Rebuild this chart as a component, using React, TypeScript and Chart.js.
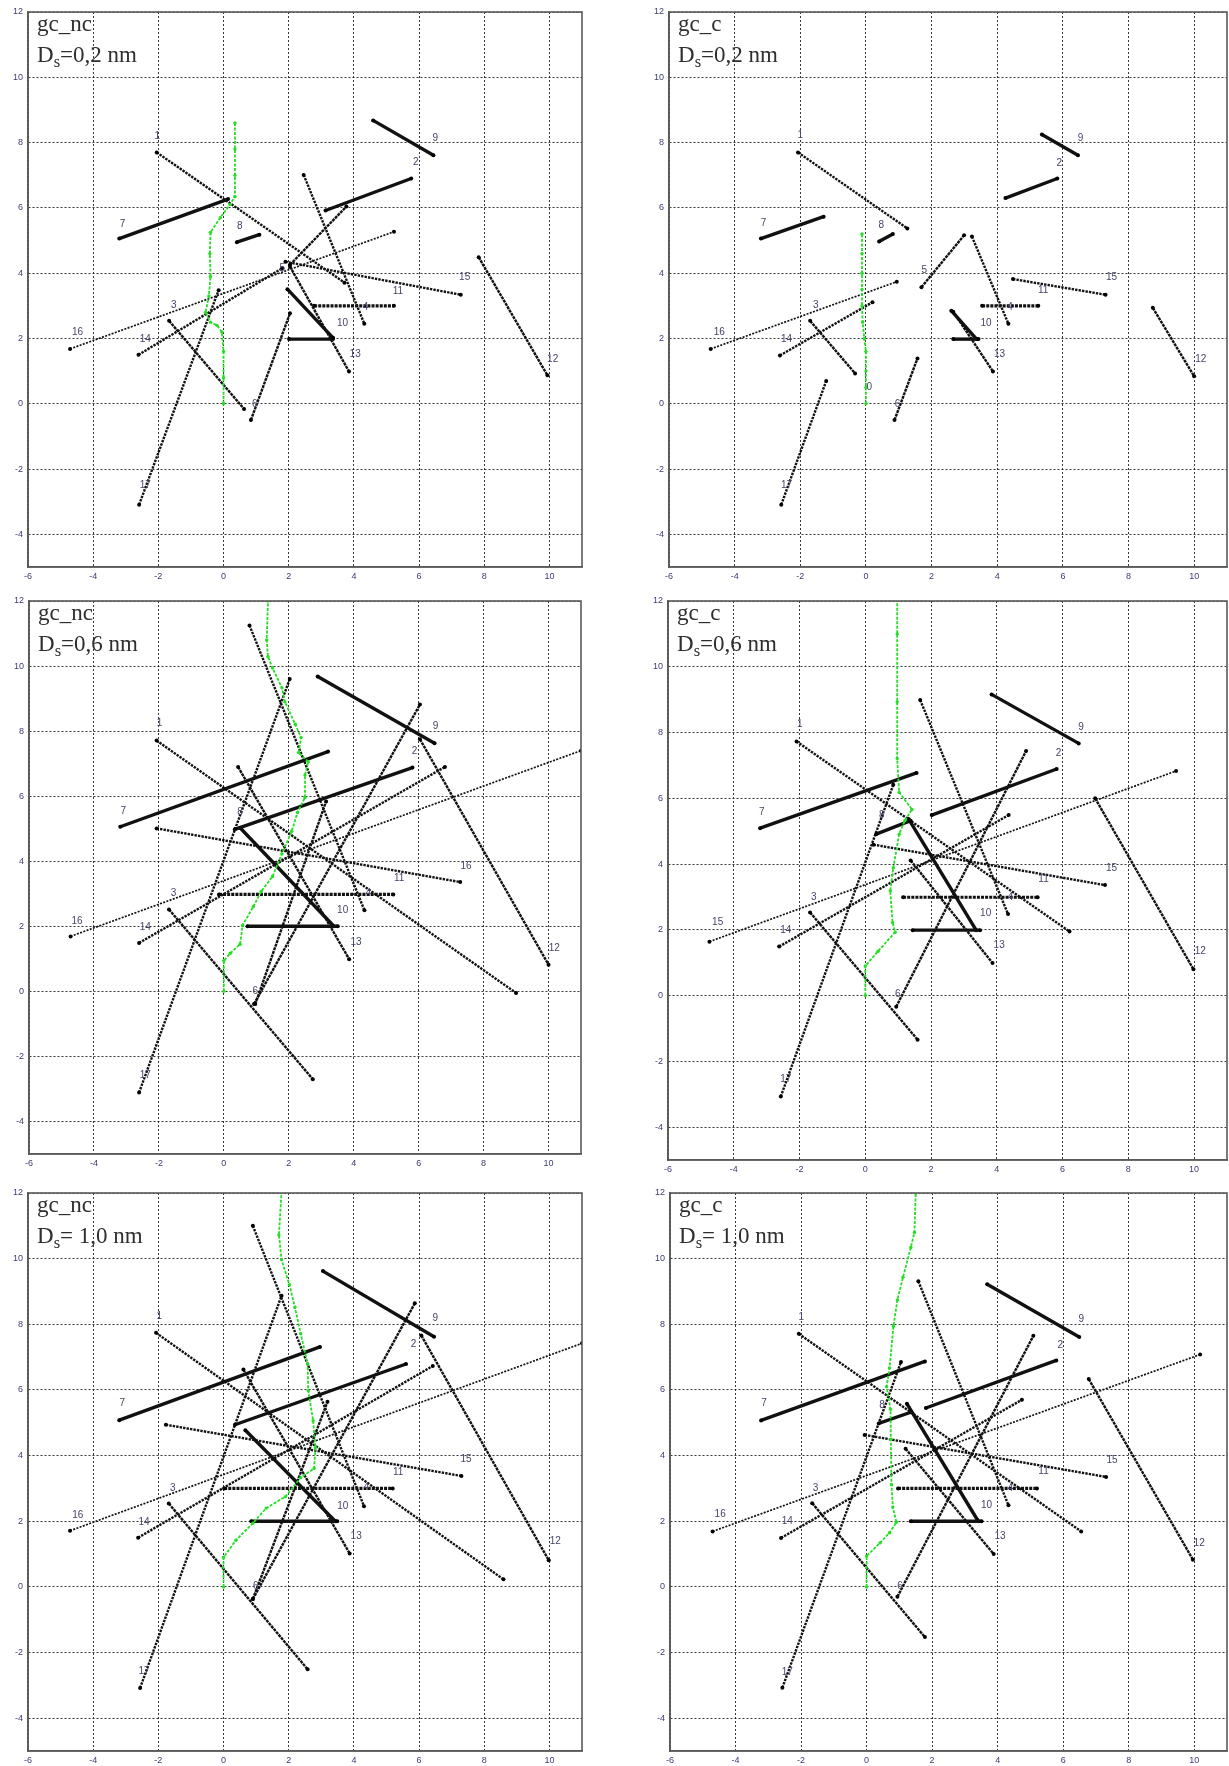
import React, { useEffect, useRef } from "react";
import { Chart, registerables } from "chart.js";

Chart.register(...registerables);

// ---------- axis values ----------
const X_MIN = -6;
const X_MAX = 11;
const Y_MIN = -5;
const Y_MAX = 12;
const X_TICKS = [-6, -4, -2, 0, 2, 4, 6, 8, 10];
const Y_TICKS = [-4, -2, 0, 2, 4, 6, 8, 10, 12];

type Seg = [string, number, number, number, number];
type Lbl = [string, number, number];

// ---------- panel titles ----------
const NAMES = ["gc_nc", "gc_c", "gc_nc", "gc_c", "gc_nc", "gc_c"];
const DS_VALUES = ["=0,2 nm", "=0,2 nm", "=0,6 nm", "=0,6 nm", "= 1,0 nm", "= 1,0 nm"];

// ---------- panel 1 : gc_nc, Ds = 0,2 nm ----------
const P1_SEGMENTS: Seg[] = [
  ["1", -2.05, 7.7, 3.71, 3.71],
  ["7", -3.2, 5.06, 0.14, 6.27],
  ["2", 3.13, 5.92, 5.76, 6.9],
  ["9", 4.59, 8.68, 6.44, 7.61],
  ["8", 0.41, 4.95, 1.1, 5.18],
  ["4", 2.46, 7.01, 4.32, 2.45],
  ["5", 2.04, 4.26, 3.77, 6.04],
  ["16", -4.71, 1.68, 5.23, 5.27],
  ["14", -2.61, 1.5, 1.8, 4.15],
  ["15", 1.9, 4.35, 7.28, 3.34],
  ["17", -2.59, -3.09, -0.15, 3.48],
  ["3", -1.67, 2.54, 0.63, -0.16],
  ["6", 0.84, -0.5, 2.04, 2.77],
  ["13", 2.04, 4.2, 3.85, 0.99],
  ["10", 1.96, 3.51, 3.36, 2.02],
  ["h2", 2.01, 1.98, 3.36, 1.98],
  ["11", 2.78, 3.0, 5.23, 3.0],
  ["12", 7.83, 4.49, 9.94, 0.87],
];
const P1_LABELS: Lbl[] = [
  ["1", -2.03, 8.2], ["9", 6.5, 8.14], ["2", 5.9, 7.4], ["7", -3.1, 5.5], ["8", 0.5, 5.45],
  ["5", 1.8, 4.15], ["15", 7.4, 3.86], ["11", 5.35, 3.45], ["3", -1.53, 3.02], ["4", 4.36, 2.97],
  ["10", 3.65, 2.48], ["16", -4.48, 2.2], ["14", -2.4, 1.99], ["13", 4.04, 1.53], ["12", 10.1, 1.37],
  ["6", 0.96, 0.0], ["17", -2.4, -2.5],
];
const P1_PATH_X = [0, 0, 0, -0.05, -0.2, -0.4, -0.55, -0.45, -0.4, -0.42, -0.4, -0.1, 0.2, 0.35, 0.35, 0.35, 0.35];
const P1_PATH_Y = [0, 0.8, 1.6, 2.2, 2.4, 2.5, 2.8, 3.3, 3.9, 4.6, 5.25, 5.7, 6.1, 6.35, 7.0, 7.8, 8.6];

// ---------- panel 2 : gc_c, Ds = 0,2 nm ----------
const P2_SEGMENTS: Seg[] = [
  ["1", -2.07, 7.7, 1.26, 5.37],
  ["7", -3.2, 5.06, -1.29, 5.73],
  ["8", 0.4, 4.97, 0.82, 5.2],
  ["9", 5.36, 8.25, 6.46, 7.61],
  ["2", 4.25, 6.3, 5.83, 6.9],
  ["5", 1.69, 3.57, 2.99, 5.16],
  ["4", 3.23, 5.12, 4.34, 2.45],
  ["11", 3.54, 3.0, 5.25, 3.0],
  ["15", 4.48, 3.82, 7.3, 3.34],
  ["16", -4.73, 1.68, 0.94, 3.74],
  ["14", -2.62, 1.48, 0.2, 3.11],
  ["3", -1.7, 2.54, -0.33, 0.93],
  ["17", -2.58, -3.09, -1.21, 0.7],
  ["6", 0.87, -0.5, 1.57, 1.39],
  ["h2", 2.66, 1.98, 3.43, 1.98],
  ["13", 2.66, 2.82, 3.87, 0.99],
  ["10", 2.6, 2.85, 3.37, 1.98],
  ["12", 8.74, 2.94, 10.0, 0.84],
];
const P2_LABELS: Lbl[] = [
  ["1", -2.0, 8.22], ["9", 6.54, 8.14], ["2", 5.89, 7.36], ["7", -3.12, 5.52], ["8", 0.47, 5.46],
  ["5", 1.78, 4.09], ["15", 7.48, 3.86], ["11", 5.4, 3.48], ["3", -1.53, 3.02], ["4", 4.39, 2.97],
  ["10", 3.66, 2.48], ["16", -4.47, 2.19], ["14", -2.42, 1.99], ["13", 4.07, 1.53], ["12", 10.2, 1.37],
  ["6", 0.96, 0.0], ["0", 0.1, 0.5], ["17", -2.42, -2.51],
];
const P2_PATH_X = [0, 0, 0, 0, -0.05, -0.1, -0.12, -0.12, -0.12, -0.12, -0.12];
const P2_PATH_Y = [0, 0.5, 1.0, 1.6, 2.0, 2.5, 3.0, 3.5, 4.0, 4.6, 5.2];

// ---------- panel 3 : gc_nc, Ds = 0,6 nm ----------
const P3_SEGMENTS: Seg[] = [
  ["1", -2.07, 7.71, 9.0, -0.05],
  ["7", -3.19, 5.06, 3.21, 7.37],
  ["2", 0.34, 4.98, 5.81, 6.88],
  ["9", 2.89, 9.68, 6.49, 7.63],
  ["6", 0.93, -0.39, 6.04, 8.82],
  ["6b", 0.97, -0.39, 3.15, 5.84],
  ["4", 0.79, 11.25, 4.33, 2.49],
  ["17", -2.61, -3.11, 2.03, 9.6],
  ["16", -4.72, 1.69, 11.0, 7.4],
  ["14", -2.61, 1.49, 6.81, 6.9],
  ["15", -2.07, 5.01, 7.28, 3.36],
  ["3", -1.69, 2.52, 2.74, -2.7],
  ["11", -0.15, 2.98, 5.22, 2.98],
  ["h2", 0.73, 2.0, 3.51, 2.0],
  ["13", 0.44, 6.9, 3.86, 0.99],
  ["10", 0.5, 5.03, 3.39, 2.0],
  ["12", 6.04, 7.75, 10.0, 0.82],
];
const P3_LABELS: Lbl[] = [
  ["1", -1.98, 8.24], ["9", 6.52, 8.15], ["2", 5.87, 7.37], ["7", -3.1, 5.55], ["8", 0.5, 5.5],
  ["16", 7.46, 3.86], ["11", 5.4, 3.48], ["3", -1.55, 3.01], ["4", 4.45, 3.01], ["10", 3.66, 2.49],
  ["16", -4.52, 2.17], ["14", -2.42, 1.97], ["13", 4.07, 1.51], ["12", 10.18, 1.34], ["6", 0.97, 0.0],
  ["17", -2.42, -2.59],
];
const P3_PATH_X = [0, 0, 0.2, 0.5, 0.58, 0.91, 1.15, 1.5, 1.79, 2.09, 2.27, 2.5, 2.5, 2.6, 2.3, 2.38, 2.2, 1.88, 1.79, 1.5, 1.36, 1.32, 1.36];
const P3_PATH_Y = [0, 0.94, 1.17, 1.45, 2.03, 2.61, 3.07, 3.53, 4.23, 4.92, 5.5, 5.96, 6.65, 7.06, 7.34, 7.8, 8.21, 8.9, 9.33, 9.94, 10.29, 10.8, 12.0];

// ---------- panel 4 : gc_c, Ds = 0,6 nm ----------
const P4_SEGMENTS: Seg[] = [
  ["1", -2.09, 7.73, 6.21, 1.95],
  ["7", -3.2, 5.09, 1.56, 6.77],
  ["8", 0.33, 4.91, 1.38, 5.32],
  ["9", 3.84, 9.16, 6.49, 7.67],
  ["2", 2.02, 5.49, 5.82, 6.89],
  ["6", 0.94, -0.34, 4.89, 7.44],
  ["4", 1.67, 8.99, 4.34, 2.48],
  ["17", -2.57, -3.07, 0.85, 6.41],
  ["16", -4.74, 1.64, 9.45, 6.83],
  ["14", -2.62, 1.49, 4.36, 5.49],
  ["15", 0.25, 4.59, 7.29, 3.36],
  ["3", -1.68, 2.53, 1.59, -1.34],
  ["11", 1.15, 2.99, 5.24, 2.99],
  ["h2", 1.44, 1.99, 3.49, 1.99],
  ["13", 1.38, 4.11, 3.87, 0.99],
  ["10", 1.32, 5.37, 3.37, 1.99],
  ["12", 6.99, 6.0, 9.98, 0.8],
];
const P4_LABELS: Lbl[] = [
  ["1", -1.99, 8.24], ["9", 6.56, 8.15], ["2", 5.88, 7.38], ["7", -3.15, 5.58], ["8", 0.5, 5.49],
  ["15", 7.49, 3.86], ["11", 5.42, 3.54], ["3", -1.57, 2.99], ["4", 4.42, 2.99], ["10", 3.66, 2.5],
  ["15", -4.49, 2.24], ["14", -2.42, 1.99], ["13", 4.07, 1.53], ["12", 10.19, 1.35], ["6", 0.99, 0.03],
  ["17", -2.42, -2.55],
];
const P4_PATH_X = [0, 0, 0.39, 0.91, 0.83, 0.76, 0.85, 1.03, 1.2, 1.42, 1.03, 0.97, 0.97, 0.97, 0.97];
const P4_PATH_Y = [0, 0.9, 1.35, 1.93, 2.22, 3.19, 3.88, 4.91, 5.32, 5.66, 6.18, 7.21, 8.93, 11.0, 12.03];

// ---------- panel 5 : gc_nc, Ds = 1,0 nm ----------
const P5_SEGMENTS: Seg[] = [
  ["1", -2.07, 7.74, 8.59, 0.23],
  ["7", -3.2, 5.08, 2.96, 7.31],
  ["2", 0.35, 4.94, 5.6, 6.79],
  ["9", 3.05, 9.62, 6.46, 7.62],
  ["6", 0.9, -0.37, 5.87, 8.64],
  ["6b", 0.9, -0.37, 3.19, 5.64],
  ["4", 0.9, 11.0, 4.31, 2.46],
  ["17", -2.56, -3.08, 1.78, 8.87],
  ["16", -4.71, 1.71, 11.0, 7.42],
  ["14", -2.62, 1.5, 6.42, 6.73],
  ["15", -1.77, 4.94, 7.3, 3.38],
  ["3", -1.68, 2.54, 2.58, -2.51],
  ["11", 0.02, 3.0, 5.19, 3.0],
  ["h2", 0.85, 2.0, 3.49, 2.0],
  ["13", 0.61, 6.62, 3.87, 1.02],
  ["10", 0.67, 4.77, 3.43, 2.0],
  ["12", 6.07, 7.66, 9.98, 0.81],
];
const P5_LABELS: Lbl[] = [
  ["1", -1.97, 8.23], ["9", 6.5, 8.18], ["2", 5.83, 7.39], ["7", -3.11, 5.58], ["15", 7.44, 3.9],
  ["11", 5.36, 3.5], ["3", -1.56, 3.0], ["4", 4.39, 3.04], ["10", 3.66, 2.46], ["16", -4.47, 2.19],
  ["14", -2.44, 1.96], ["13", 4.07, 1.54], ["12", 10.18, 1.39], ["6", 0.99, 0.03], ["17", -2.44, -2.56],
];
const P5_PATH_X = [0, 0, 0.38, 0.9, 1.31, 1.9, 2.37, 2.78, 2.82, 2.75, 2.6, 2.58, 2.37, 2.19, 2.02, 1.78, 1.7, 1.78];
const P5_PATH_Y = [0, 0.9, 1.42, 1.94, 2.4, 2.75, 3.33, 3.61, 4.25, 5.06, 5.98, 6.79, 7.71, 8.52, 9.21, 9.97, 10.72, 12.04];

// ---------- panel 6 : gc_c, Ds = 1,0 nm ----------
const P6_SEGMENTS: Seg[] = [
  ["1", -2.07, 7.71, 6.55, 1.69],
  ["7", -3.22, 5.07, 1.78, 6.87],
  ["8", 0.37, 4.98, 1.35, 5.32],
  ["9", 3.68, 9.22, 6.49, 7.61],
  ["2", 1.81, 5.45, 5.79, 6.9],
  ["6", 0.94, -0.3, 5.09, 7.65],
  ["4", 1.58, 9.31, 4.33, 2.49],
  ["17", -2.57, -3.07, 1.05, 6.85],
  ["16", -4.7, 1.69, 10.18, 7.08],
  ["14", -2.61, 1.49, 4.74, 5.7],
  ["15", -0.06, 4.63, 7.31, 3.35],
  ["3", -1.66, 2.55, 1.78, -1.53],
  ["11", 0.96, 3.0, 5.2, 3.0],
  ["h2", 1.35, 2.0, 3.51, 2.0],
  ["13", 1.19, 4.21, 3.88, 1.0],
  ["10", 1.23, 5.58, 3.39, 2.03],
  ["12", 6.78, 6.33, 9.96, 0.83],
];
const P6_LABELS: Lbl[] = [
  ["1", -1.99, 8.22], ["9", 6.55, 8.14], ["2", 5.91, 7.36], ["7", -3.13, 5.58], ["8", 0.47, 5.53],
  ["15", 7.49, 3.86], ["11", 5.4, 3.52], ["3", -1.56, 3.0], ["4", 4.39, 3.0], ["10", 3.66, 2.49],
  ["16", -4.47, 2.2], ["14", -2.42, 2.0], ["13", 4.07, 1.54], ["12", 10.15, 1.34], ["6", 1.02, 0.02],
  ["17", -2.42, -2.61],
];
const P6_PATH_X = [0, 0, 0.41, 0.7, 0.91, 0.8, 0.76, 0.74, 0.73, 0.61, 0.7, 0.82, 0.94, 1.11, 1.35, 1.46, 1.5];
const P6_PATH_Y = [0, 0.94, 1.34, 1.65, 1.97, 2.43, 3.12, 4.5, 5.41, 6.1, 6.67, 7.94, 8.74, 9.43, 10.34, 10.8, 12.0];

// ---------- styling (kept apart from the data) ----------
const SEGMENT_KIND: Record<string, string> = {
  "7": "thick", "2": "thick", "9": "thick", "8": "thick", "10": "thick", h2: "thick",
  "3": "solid", "6": "solid", "6b": "solid", "12": "solid", "13": "solid", "5": "solid",
  "1": "dotted", "17": "dotted", "4": "dotted", "14": "dotted", "15": "dotted",
  "11": "dottedThick", "16": "thin",
};
const KIND_STYLE: Record<string, { width: number; dash: number[] }> = {
  thick: { width: 3.4, dash: [] },
  solid: { width: 2.4, dash: [3, 0.8] },
  dotted: { width: 2.4, dash: [2.4, 1.1] },
  dottedThick: { width: 3.2, dash: [3, 1.1] },
  thin: { width: 1.7, dash: [2, 1.4] },
};
const LINE_COLOR = "#111111";
const GREEN = "#22e022";
const LABEL_COLOR = "#45456a";
const TICK_COLOR = "#3c3c72";

// plot-area rectangles in page pixels: left, top, right, bottom
const BOXES: number[][] = [
  [28, 12, 582, 567],
  [669, 12, 1227, 567],
  [29, 601, 581, 1154],
  [668, 601, 1227, 1160],
  [28, 1193, 582, 1751],
  [670, 1193, 1227, 1751],
];

const PANEL_DATA = [
  { segs: P1_SEGMENTS, labels: P1_LABELS, px: P1_PATH_X, py: P1_PATH_Y },
  { segs: P2_SEGMENTS, labels: P2_LABELS, px: P2_PATH_X, py: P2_PATH_Y },
  { segs: P3_SEGMENTS, labels: P3_LABELS, px: P3_PATH_X, py: P3_PATH_Y },
  { segs: P4_SEGMENTS, labels: P4_LABELS, px: P4_PATH_X, py: P4_PATH_Y },
  { segs: P5_SEGMENTS, labels: P5_LABELS, px: P5_PATH_X, py: P5_PATH_Y },
  { segs: P6_SEGMENTS, labels: P6_LABELS, px: P6_PATH_X, py: P6_PATH_Y },
];

const PAGE_W = 1229;
const PAGE_H = 1766;

function Panel({ index }: { index: number }) {
  const ref = useRef<HTMLCanvasElement>(null);
  const [L, T, R, B] = BOXES[index];
  const padL = 28;
  const padT = 12;
  const padB = 20;
  const padR = Math.min(8, PAGE_W - R);
  const left = L - padL;
  const top = T - padT;
  const width = R + padR - left;
  const height = B + padB - top;

  useEffect(() => {
    const d = PANEL_DATA[index];
    const datasets: any[] = [];
    datasets.push({
      data: d.px.map((x, i) => ({ x, y: d.py[i] })),
      showLine: true,
      borderColor: GREEN,
      borderWidth: 1.8,
      borderDash: [3, 1.5],
      pointRadius: 1.7,
      pointBackgroundColor: GREEN,
      pointBorderWidth: 0,
    });
    for (const s of d.segs) {
      const st = KIND_STYLE[SEGMENT_KIND[s[0]] || "solid"];
      datasets.push({
        data: [
          { x: s[1], y: s[2] },
          { x: s[3], y: s[4] },
        ],
        showLine: true,
        borderColor: LINE_COLOR,
        borderWidth: st.width,
        borderDash: st.dash,
        borderCapStyle: "butt",
        pointRadius: 2,
        pointBackgroundColor: "#000",
        pointBorderWidth: 0,
      });
    }

    const overlay = {
      id: "overlay" + index,
      afterDraw(chart: any) {
        const { ctx, chartArea: a, scales } = chart;
        ctx.save();
        ctx.strokeStyle = "#5a5a5a";
        ctx.lineWidth = 1.6;
        ctx.strokeRect(a.left, a.top, a.right - a.left, a.bottom - a.top);
        ctx.font = "10px Arial, 'Liberation Sans', sans-serif";
        ctx.fillStyle = LABEL_COLOR;
        ctx.textAlign = "center";
        ctx.textBaseline = "middle";
        for (const [t, lx, ly] of d.labels) {
          ctx.fillText(t, scales.x.getPixelForValue(lx), scales.y.getPixelForValue(ly));
        }
        ctx.restore();
      },
    };

    const gridCommon = {
      color: "rgba(20,20,20,0.85)",
      lineWidth: 1,
      drawTicks: false,
    };
    const borderCommon = { display: true, color: "#5a5a5a", width: 1.5, dash: [2, 2] };
    const tickFont = { size: 9, family: "Arial, 'Liberation Sans', sans-serif" };

    const chart = new Chart(ref.current as HTMLCanvasElement, {
      type: "scatter",
      data: { datasets },
      options: {
        animation: false,
        responsive: false,
        maintainAspectRatio: false,
        events: [],
        layout: { padding: { top: padT, right: padR, left: 0, bottom: 0 }, autoPadding: false },
        plugins: { legend: { display: false }, tooltip: { enabled: false }, title: { display: false } },
        scales: {
          x: {
            type: "linear",
            min: X_MIN,
            max: X_MAX,
            afterBuildTicks: (sc: any) => {
              sc.ticks = X_TICKS.map((v) => ({ value: v }));
            },
            afterFit: (sc: any) => {
              sc.height = padB;
            },
            grid: gridCommon,
            border: borderCommon,
            ticks: { color: TICK_COLOR, font: tickFont, padding: 4, maxRotation: 0, autoSkip: false },
          },
          y: {
            type: "linear",
            min: Y_MIN,
            max: Y_MAX,
            afterBuildTicks: (sc: any) => {
              sc.ticks = Y_TICKS.map((v) => ({ value: v }));
            },
            afterFit: (sc: any) => {
              sc.width = padL;
            },
            grid: gridCommon,
            border: borderCommon,
            ticks: { color: TICK_COLOR, font: tickFont, padding: 5, autoSkip: false },
          },
        },
      } as any,
      plugins: [overlay],
    });
    return () => chart.destroy();
  }, [index]);

  return (
    <>
      <canvas
        ref={ref}
        width={width}
        height={height}
        style={{ position: "absolute", left, top, width, height }}
      />
      <div
        style={{
          position: "absolute",
          left: L + 9,
          top: T - 4,
          font: "23px 'Liberation Serif', 'Times New Roman', serif",
          lineHeight: "31px",
          color: "#2e2e2e",
          whiteSpace: "pre",
          pointerEvents: "none",
        }}
      >
        <div>{NAMES[index]}</div>
        <div>
          D
          <sub style={{ fontSize: "0.72em", verticalAlign: "-0.3em", lineHeight: 0 }}>s</sub>
          {DS_VALUES[index]}
        </div>
      </div>
    </>
  );
}

export default function App() {
  return (
    <div
      style={{
        position: "absolute",
        left: 0,
        top: 0,
        width: PAGE_W,
        height: PAGE_H,
        background: "#fff",
        overflow: "hidden",
      }}
    >
      {BOXES.map((_, i) => (
        <Panel key={i} index={i} />
      ))}
    </div>
  );
}
